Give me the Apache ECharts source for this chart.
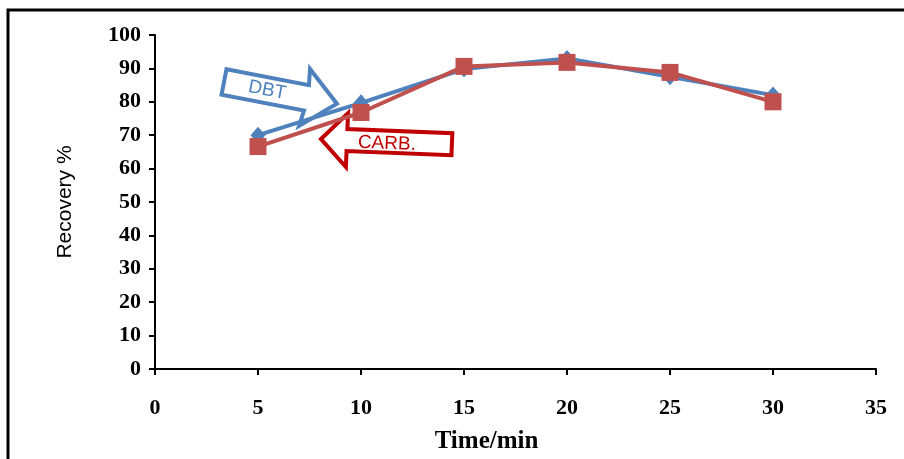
<!DOCTYPE html>
<html>
<head>
<meta charset="utf-8">
<title>Recovery vs time</title>
<script src="https://cdn.jsdelivr.net/npm/echarts@6/dist/echarts.min.js"></script>
<style>
    html, body { margin: 0; padding: 0; background: #fff; }
    #chart { width: 904px; height: 459px; }
</style>
</head>
<body>
<div id="chart"></div>
<script>
// time points (min)
let times = [5, 10, 15, 20, 25, 30];
// recovery %
let dbtValues = [70, 79.7, 89.8, 93, 87.5, 82];
let carbValues = [66.6, 76.8, 90.6, 91.8, 88.8, 80];

let toPairs = (xs, ys) => xs.map((x, i) => [x, ys[i]]);

let serif = "'Liberation Serif', 'Times New Roman', serif";
let sans = "'Liberation Sans', Arial, sans-serif";

let blue = '#4F81BD';
let red = '#C0504D';
let darkRed = '#C00000';

let option = {
    animation: false,
    backgroundColor: '#fff',
    grid: {
        left: 155,
        right: 28,
        top: 35,
        bottom: 89
    },
    xAxis: {
        type: 'value',
        min: 0,
        max: 35,
        interval: 5,
        name: 'Time/min',
        nameLocation: 'middle',
        nameGap: 60,
        nameTextStyle: { fontFamily: serif, fontWeight: 'bold', fontSize: 25, color: '#000', padding: [0, 58, 0, 0] },
        axisLine: { lineStyle: { color: '#000', width: 2 } },
        axisTick: { show: true, length: 6, lineStyle: { color: '#000', width: 2 } },
        axisLabel: { margin: 28, fontFamily: serif, fontWeight: 'bold', fontSize: 22, color: '#000' },
        splitLine: { show: false }
    },
    yAxis: {
        type: 'value',
        min: 0,
        max: 100,
        interval: 10,
        name: 'Recovery %',
        nameLocation: 'middle',
        nameRotate: 90,
        nameGap: 79,
        nameTextStyle: { fontFamily: sans, fontSize: 21, color: '#000' },
        axisLine: { show: true, lineStyle: { color: '#000', width: 2 } },
        axisTick: { show: true, length: 6, lineStyle: { color: '#000', width: 2 } },
        axisLabel: { margin: 14, fontFamily: serif, fontWeight: 'bold', fontSize: 22, color: '#000' },
        splitLine: { show: false }
    },
    graphic: [
        // outer frame
        {
            type: 'rect',
            shape: { x: 8, y: 10, width: 1000, height: 1000 },
            style: { fill: 'none', stroke: '#000', lineWidth: 3 },
            z: 0
        },
        // DBT arrow
        {
            type: 'group',
            x: 224, y: 82,
            rotation: -0.19,
            z: 0,
            children: [
                {
                    type: 'polygon',
                    shape: { points: [[0, -13], [84, -13], [82, -29], [115, 0], [82, 29], [84, 13], [0, 13]] },
                    style: { fill: '#fff', stroke: blue, lineWidth: 4 }
                },
                {
                    type: 'text',
                    x: 44, y: 0,
                    style: { text: 'DBT', fill: blue, font: '19px ' + sans, align: 'center', verticalAlign: 'middle' }
                }
            ]
        },
        // CARB. arrow
        {
            type: 'group',
            x: 321, y: 139,
            rotation: -0.04,
            z: 0,
            children: [
                {
                    type: 'polygon',
                    shape: { points: [[0, 0], [26, -27], [26, -11], [131, -11], [131, 11], [26, 11], [26, 27]] },
                    style: { fill: '#fff', stroke: darkRed, lineWidth: 4 }
                },
                {
                    type: 'text',
                    x: 66, y: 2,
                    style: { text: 'CARB.', fill: darkRed, font: '19px ' + sans, align: 'center', verticalAlign: 'middle' }
                }
            ]
        }
    ],
    series: [
        {
            name: 'DBT',
            type: 'line',
            data: toPairs(times, dbtValues),
            symbol: 'diamond',
            symbolSize: [15, 17],
            lineStyle: { color: blue, width: 4 },
            itemStyle: { color: blue },
            z: 3
        },
        {
            name: 'CARB.',
            type: 'line',
            data: toPairs(times, carbValues),
            symbol: 'rect',
            symbolSize: 17,
            lineStyle: { color: red, width: 4 },
            itemStyle: { color: red },
            z: 4
        }
    ]
};

let chart = echarts.init(document.getElementById('chart'));
chart.setOption(option);
</script>
</body>
</html>
